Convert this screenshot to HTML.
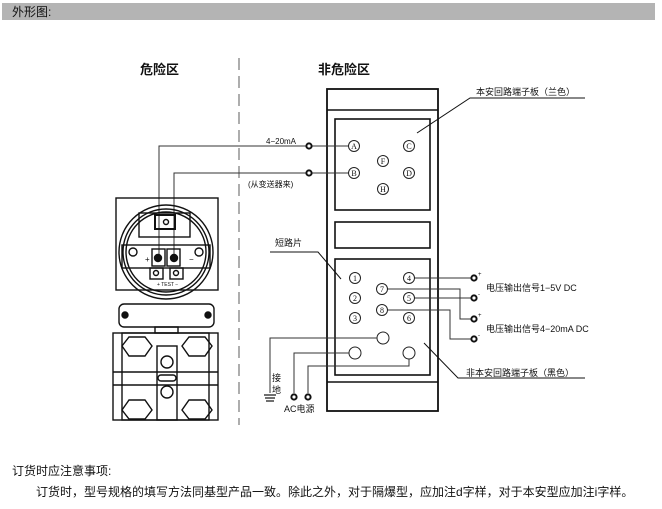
<!DOCTYPE html>
<html><head><meta charset="utf-8"><style>
body{margin:0;width:662px;height:504px;background:#fff;overflow:hidden;font-family:"Liberation Sans","Noto Sans CJK SC",sans-serif}
</style></head><body>
<svg width="662" height="504" viewBox="0 0 662 504" xmlns="http://www.w3.org/2000/svg" font-family="Liberation Sans, Noto Sans CJK SC, sans-serif">
<rect x="2" y="3" width="653" height="17" fill="#b4b4b4"/>
<text x="12" y="16" font-size="12" fill="#111">外形图:</text>
<text x="140" y="74" font-size="13" font-weight="bold" fill="#111">危险区</text>
<text x="318" y="74" font-size="13" font-weight="bold" fill="#111">非危险区</text>
<line x1="239" y1="58" x2="239" y2="425" stroke="#777" stroke-width="1.2" stroke-dasharray="12,6"/>
<g fill="none" stroke="#111" stroke-width="1.3">
<rect x="327" y="89" width="111" height="322" stroke-width="1.8"/>
<line x1="327" y1="110" x2="438" y2="110" stroke-width="1.6"/>
<rect x="335" y="119" width="95" height="91" stroke-width="1.6"/>
<rect x="335" y="222" width="95" height="26" stroke-width="1.6"/>
<rect x="335" y="259" width="95" height="116" stroke-width="1.6"/>
<line x1="327" y1="382" x2="438" y2="382" stroke-width="1.6"/>
<polyline points="417,133 470,98 585,98" stroke-width="1"/>
<polyline points="341,279 318,252 270,252" stroke-width="1"/>
<polyline points="424,343 458,378 585,378" stroke-width="1"/>
</g>
<g fill="none" stroke="#222" stroke-width="1">
<circle cx="354" cy="146" r="5.5"/><circle cx="409" cy="146" r="5.5"/><circle cx="383" cy="161" r="5.5"/>
<circle cx="354" cy="173" r="5.5"/><circle cx="409" cy="173" r="5.5"/><circle cx="383" cy="189" r="5.5"/>
<circle cx="355" cy="278" r="5.5"/><circle cx="409" cy="278" r="5.5"/><circle cx="382" cy="289" r="5.5"/>
<circle cx="355" cy="298" r="5.5"/><circle cx="409" cy="298" r="5.5"/><circle cx="382" cy="310" r="5.5"/>
<circle cx="355" cy="318" r="5.5"/><circle cx="409" cy="318" r="5.5"/>
<circle cx="383" cy="338" r="6"/><circle cx="355" cy="353" r="6"/><circle cx="409" cy="353" r="6"/>
</g>
<g font-size="8" text-anchor="middle" fill="#111" font-family="Liberation Serif, serif">
<text x="354" y="149">A</text><text x="409" y="149">C</text><text x="383" y="164">F</text>
<text x="354" y="176">B</text><text x="409" y="176">D</text><text x="383" y="192">H</text>
<text x="355" y="281">1</text><text x="409" y="281">4</text><text x="382" y="292">7</text>
<text x="355" y="301">2</text><text x="409" y="301">5</text><text x="382" y="313">8</text>
<text x="355" y="321">3</text><text x="409" y="321">6</text>
</g>
<g fill="none" stroke="#333" stroke-width="1">
<polyline points="159,255 159,146 306,146"/><line x1="312" y1="146" x2="348" y2="146"/>
<polyline points="174,255 174,173 306,173"/><line x1="312" y1="173" x2="348" y2="173"/>
<line x1="415" y1="278" x2="471" y2="278"/>
<polyline points="388,289 460,289 460,319 471,319"/>
<line x1="415" y1="298" x2="471" y2="298"/>
<polyline points="388,310 450,310 450,339 471,339"/>
<polyline points="377,338 270,338 270,393"/>
<polyline points="349,353 294,353 294,393"/>
<polyline points="409,359 409,366 308,366 308,393"/>
</g>
<g fill="#fff" stroke="#111" stroke-width="2">
<circle cx="309" cy="146" r="2.6"/><circle cx="309" cy="173" r="2.6"/>
<circle cx="474" cy="278" r="2.6"/><circle cx="474" cy="298" r="2.6"/>
<circle cx="474" cy="319" r="2.6"/><circle cx="474" cy="339" r="2.6"/>
<circle cx="294" cy="397" r="2.6"/><circle cx="308" cy="397" r="2.6"/>
</g>
<g stroke="#111" stroke-width="1.2"><line x1="264" y1="395" x2="276" y2="395"/><line x1="265" y1="398" x2="275" y2="398"/><line x1="266" y1="401" x2="274" y2="401"/></g>
<g font-size="8" fill="#111">
<text x="266" y="144">4−20mA</text>
<text x="248" y="187">(从变送器来)</text>
<text x="275" y="246" font-size="9">短路片</text>
<text x="476" y="95" font-size="9">本安回路端子板（兰色）</text>
<text x="478" y="276" font-size="6">+</text><text x="478" y="296" font-size="6">-</text>
<text x="478" y="317" font-size="6">+</text><text x="478" y="337" font-size="6">-</text>
<text x="486" y="291" font-size="9">电压输出信号1−5V  DC</text>
<text x="486" y="332" font-size="9">电压输出信号4−20mA  DC</text>
<text x="466" y="376" font-size="9">非本安回路端子板（黑色）</text>
<text x="272" y="381" font-size="9">接</text><text x="272" y="393" font-size="9">地</text>
<text x="284" y="412" font-size="9">AC电源</text>
</g>
<g fill="none" stroke="#111" stroke-width="1.4">
<rect x="116" y="198" width="102" height="92"/>
<circle cx="166" cy="252" r="47"/><circle cx="166" cy="252" r="43"/><circle cx="166" cy="252" r="40"/>
<rect x="139" y="213" width="51" height="24"/>
<rect x="155" y="215" width="20" height="14" stroke-width="2"/><circle cx="166" cy="222" r="2.5"/>
<rect x="122" y="245" width="88" height="23"/>
<rect x="152" y="249" width="13" height="17"/><rect x="167" y="249" width="13" height="17"/>
<circle cx="158" cy="258" r="3.5" fill="#111"/><circle cx="174" cy="258" r="3.5" fill="#111"/>
<circle cx="133" cy="252" r="4"/><circle cx="199" cy="252" r="4"/>
<rect x="150" y="268" width="13" height="11"/><rect x="170" y="268" width="13" height="11"/>
<circle cx="156" cy="273" r="2.5"/><circle cx="176" cy="273" r="2.5"/>
<rect x="119" y="304" width="95" height="23" rx="5"/>
<circle cx="125" cy="315" r="3" fill="#111"/><circle cx="208" cy="315" r="3" fill="#111"/>
<rect x="155" y="327" width="23" height="6"/>
<rect x="113" y="333" width="105" height="87"/>
<rect x="122" y="333" width="87" height="87"/>
<line x1="113" y1="372" x2="218" y2="372"/><line x1="113" y1="385" x2="218" y2="385"/>
<rect x="157" y="346" width="20" height="74"/>
<circle cx="167" cy="362" r="6"/><circle cx="167" cy="392" r="6"/>
<rect x="158" y="375" width="18" height="6" rx="3"/>
<polygon points="129,337 145,337 152,346 145,356 129,356 122,346"/>
<polygon points="189,337 205,337 212,346 205,356 189,356 182,346"/>
<polygon points="129,400 145,400 152,410 145,419 129,419 122,410"/>
<polygon points="189,400 205,400 212,410 205,419 189,419 182,410"/>
</g>
<g font-size="8" fill="#111"><text x="145" y="262">+</text><text x="189" y="262">−</text>
<text x="157" y="286" font-size="5">+ TEST −</text></g>
<text x="12" y="475" font-size="12" fill="#111">订货时应注意事项:</text>
<text x="36" y="496" font-size="12" fill="#111">订货时，型号规格的填写方法同基型产品一致。除此之外，对于隔爆型，应加注d字样，对于本安型应加注i字样。</text>
</svg>
</body></html>
